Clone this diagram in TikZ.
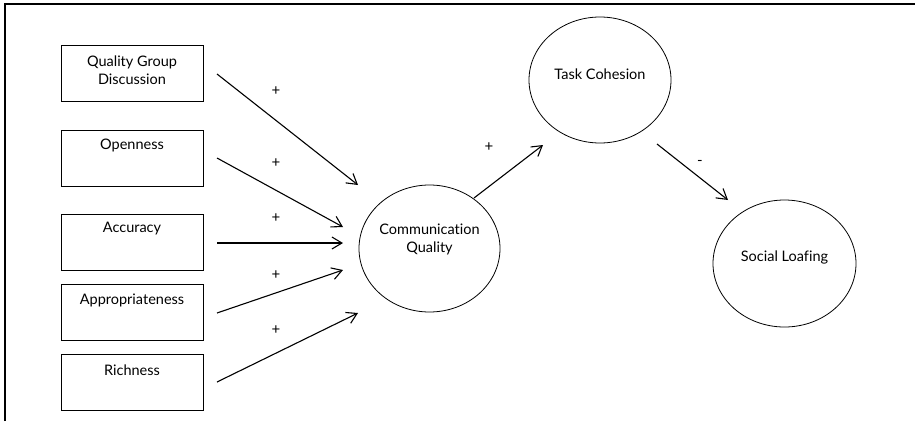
\documentclass[tikz,border=0pt]{standalone}
\usepackage{fontspec}
\setmainfont{Lato}[Ligatures=NoCommon]
\usetikzlibrary{shapes.geometric,arrows.meta}
\begin{document}
\begin{tikzpicture}[x=1pt,y=-1pt,
  box/.style={draw,line width=0.8pt,minimum width=142pt,minimum height=56pt,inner sep=0pt},
  oval/.style={draw,ellipse,line width=0.8pt,inner sep=0pt},
  txt/.style={font=\fontsize{14.5}{18}\selectfont,align=center,inner sep=0pt},
  sgn/.style={font=\fontsize{15}{16}\selectfont,inner sep=0pt},
  arr/.style={line width=1.1pt,-{Straight Barb[length=10pt,width=12pt,line width=1.1pt]}}]
\useasboundingbox (0,0) rectangle (915,421);
% frame
\draw[line width=1.4pt] (5,421) -- (5,4) -- (915,4);
% boxes
\node[box] (qgd) at (132,73) {};
\node[box] (opn) at (132,158) {};
\node[box] (acc) at (132,242) {};
\node[box] (app) at (132,312.5) {};
\node[box] (rich) at (132,382.5) {};
\node[txt] (qgdt) at (132,70) {Quality Group\\Discussion};
\node[txt] (opnt) at (132,145) {Openness};
\node[txt] (acct) at (132,229) {Accuracy};
\node[txt] (appt) at (132,300) {Appropriateness};
\node[txt] (richt) at (132,370) {Richness};
% ellipses
\node[oval,minimum width=141pt,minimum height=127pt] (cq) at (429.5,248.5) {};
\node[oval,minimum width=142pt,minimum height=126pt] (tc) at (600,80) {};
\node[oval,minimum width=143pt,minimum height=127pt] (sl) at (784.5,263.5) {};
\node[txt] (cqt) at (429.5,239) {Communication\\Quality};
\node[txt] (tct) at (600,74) {Task Cohesion};
\node[txt] (slt) at (784.5,257) {Social Loafing};
% arrow end points
\coordinate (s1) at (217,74);  \coordinate (e1) at (358,185);
\coordinate (s2) at (217,158); \coordinate (e2) at (343,227);
\coordinate (s3) at (217,243); \coordinate (e3) at (343,243);
\coordinate (s4) at (217,313); \coordinate (e4) at (343,270);
\coordinate (s5) at (217,382); \coordinate (e5) at (358,313);
\coordinate (s6) at (474,198); \coordinate (e6) at (543,145);
\coordinate (s7) at (657,144); \coordinate (e7) at (728,200);
\draw[arr] (s1) -- (e1);
\draw[arr] (s2) -- (e2);
\draw[arr] (s3) -- (e3);
\draw[arr] (s4) -- (e4);
\draw[arr] (s5) -- (e5);
\draw[arr] (s6) -- (e6);
\draw[arr] (s7) -- (e7);
% signs
\node[sgn] (p1) at (276,91) {+};
\node[sgn] (p2) at (276,163) {+};
\node[sgn] (p3) at (276,218) {+};
\node[sgn] (p4) at (276,275) {+};
\node[sgn] (p5) at (276,330) {+};
\node[sgn] (p6) at (489,147) {+};
\node[sgn] (m7) at (700,163) {-};
\end{tikzpicture}
\end{document}
